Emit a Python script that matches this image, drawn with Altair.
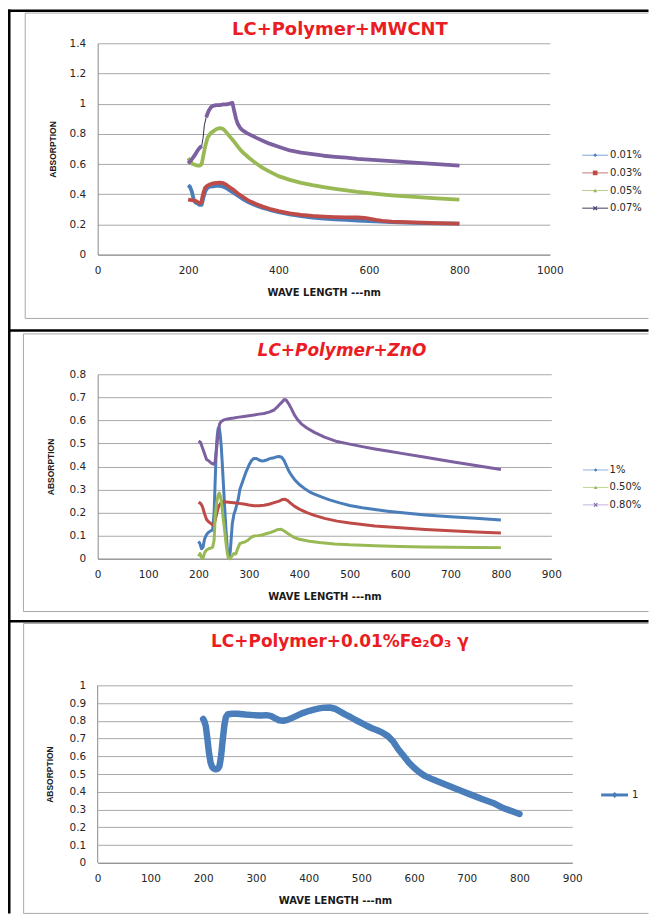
import altair as alt
import pandas as pd

# ---------------- LC + Polymer + MWCNT ----------------
mw_names = ["0.01%", "0.03%", "0.05%", "0.07%"]
mw_colors = ["#4a7ebb", "#be4b48", "#98b954", "#7d60a0"]

mw_wl_001 = [200, 204, 208, 212, 216, 220, 225, 230, 234, 238, 242, 248, 255, 262, 270, 278, 285, 292, 300, 310,
             320, 335, 350, 365, 380, 400, 425, 450, 475, 500, 525, 550, 575, 600, 625, 650, 700, 750, 800]
mw_ab_001 = [0.46, 0.45, 0.42, 0.37, 0.345, 0.34, 0.33, 0.33, 0.38, 0.42, 0.44, 0.45, 0.452, 0.455, 0.455, 0.45,
             0.44, 0.425, 0.41, 0.39, 0.37, 0.345, 0.325, 0.31, 0.297, 0.282, 0.267, 0.255, 0.245, 0.238, 0.233,
             0.23, 0.226, 0.222, 0.218, 0.215, 0.21, 0.207, 0.205]

mw_wl_003 = [200, 205, 210, 215, 220, 225, 229, 233, 237, 242, 248, 255, 262, 270, 278, 285, 292, 300, 310, 320,
             335, 350, 365, 380, 400, 425, 450, 475, 500, 525, 550, 575, 590, 600, 615, 630, 650, 700, 750, 800]
mw_ab_003 = [0.365, 0.362, 0.36, 0.358, 0.35, 0.34, 0.345, 0.4, 0.44, 0.455, 0.465, 0.472, 0.476, 0.477, 0.473,
             0.462, 0.445, 0.43, 0.405, 0.385, 0.355, 0.336, 0.318, 0.304, 0.288, 0.274, 0.263, 0.256, 0.252,
             0.249, 0.247, 0.246, 0.244, 0.238, 0.23, 0.224, 0.219, 0.213, 0.209, 0.205]

mw_wl_005 = [200, 205, 210, 215, 220, 226, 230, 234, 238, 243, 250, 257, 263, 270, 276, 282, 290, 300, 310, 320,
             335, 350, 365, 380, 400, 425, 450, 475, 500, 525, 550, 575, 600, 650, 700, 750, 800]
mw_ab_005 = [0.64, 0.62, 0.6, 0.595, 0.59, 0.59, 0.6, 0.66, 0.72, 0.775, 0.805, 0.82, 0.832, 0.838, 0.835, 0.82,
             0.79, 0.755, 0.715, 0.68, 0.64, 0.605, 0.575, 0.55, 0.52, 0.495, 0.475, 0.46, 0.447, 0.436, 0.425,
             0.415, 0.407, 0.393, 0.382, 0.372, 0.365]

mw_wl_007 = [200, 205, 210, 215, 220, 225, 230, 233, 236, 240, 245, 250, 255, 262, 270, 278, 285, 292, 298, 302,
             306, 310, 315, 320, 330, 340, 350, 365, 380, 400, 425, 450, 475, 500, 525, 550, 575, 600, 650, 700,
             750, 800]
mw_ab_007 = [0.605, 0.62, 0.64, 0.66, 0.685, 0.705, 0.72, 0.77, 0.86, 0.91, 0.95, 0.975, 0.985, 0.99, 0.99, 0.995,
             0.995, 1.0, 1.005, 0.95, 0.9, 0.865, 0.84, 0.825, 0.805, 0.79, 0.775, 0.755, 0.735, 0.715, 0.69,
             0.675, 0.665, 0.655, 0.648, 0.642, 0.635, 0.63, 0.62, 0.61, 0.6, 0.59]

# ---------------- LC + Polymer + ZnO ----------------
zn_names = ["1%", "0.30%", "0.50%", "0.80%"]
zn_colors = ["#4a7ebb", "#be4b48", "#98b954", "#8668ad"]

zn_wl_1 = [200, 203, 206, 209, 212, 216, 220, 224, 228, 231, 233, 235, 237, 239, 241, 243, 245, 247, 249, 251,
           253, 255, 257, 259, 261, 263, 265, 267, 270, 273, 276, 279, 282, 286, 290, 295, 300, 305, 310, 315,
           320, 325, 330, 335, 340, 345, 350, 355, 360, 365, 370, 375, 380, 385, 390, 395, 400, 410, 420, 430,
           445, 460, 480, 500, 525, 550, 575, 600, 650, 700, 750, 800]
zn_ab_1 = [0.075, 0.065, 0.043, 0.05, 0.085, 0.105, 0.115, 0.12, 0.125, 0.2, 0.33, 0.46, 0.53, 0.565, 0.57, 0.54,
           0.49, 0.42, 0.34, 0.26, 0.18, 0.11, 0.05, 0.02, 0.01, 0.03, 0.09, 0.15, 0.19, 0.21, 0.235, 0.26, 0.3,
           0.325, 0.35, 0.38, 0.405, 0.425, 0.435, 0.435, 0.428, 0.424, 0.425, 0.428, 0.433, 0.436, 0.438, 0.442,
           0.443, 0.44, 0.425, 0.4, 0.377, 0.36, 0.345, 0.333, 0.322, 0.305, 0.29, 0.28, 0.267, 0.255, 0.242,
           0.231, 0.221, 0.213, 0.206, 0.2, 0.19, 0.182, 0.175, 0.168]

zn_wl_03 = [200, 204, 208, 212, 216, 220, 225, 230, 233, 236, 240, 245, 250, 260, 270, 280, 290, 300, 310, 320,
            330, 340, 350, 360, 367, 372, 377, 382, 390, 400, 415, 430, 450, 475, 500, 525, 550, 600, 650, 700,
            750, 800]
zn_ab_03 = [0.245, 0.24, 0.225, 0.195, 0.17, 0.16, 0.152, 0.145, 0.165, 0.195, 0.228, 0.243, 0.247, 0.245, 0.243,
            0.24, 0.237, 0.233, 0.23, 0.23, 0.232, 0.236, 0.243, 0.25, 0.257, 0.258, 0.252, 0.242, 0.228, 0.215,
            0.2, 0.188, 0.175, 0.163, 0.155, 0.148, 0.142, 0.134, 0.127, 0.121, 0.116, 0.111]

zn_wl_05 = [200, 203, 206, 209, 212, 216, 220, 224, 228, 231, 233, 236, 239, 241, 243, 245, 247, 249, 251, 253,
            255, 257, 259, 262, 266, 270, 274, 278, 282, 287, 292, 298, 304, 310, 318, 326, 334, 342, 350, 358,
            364, 370, 378, 388, 400, 420, 440, 470, 500, 550, 600, 650, 700, 750, 800]
zn_ab_05 = [0.01, 0.022, 0.005, 0.002, 0.025, 0.038, 0.043, 0.045, 0.05, 0.08, 0.18, 0.245, 0.275, 0.285, 0.275,
            0.255, 0.215, 0.175, 0.14, 0.1, 0.06, 0.025, 0.005, 0.0, 0.01, 0.022, 0.02, 0.045, 0.065, 0.07, 0.072,
            0.08, 0.092, 0.098, 0.1, 0.103, 0.108, 0.113, 0.12, 0.127, 0.128, 0.12, 0.108, 0.094, 0.084, 0.076,
            0.07, 0.064, 0.06, 0.056, 0.053, 0.051, 0.05, 0.049, 0.048]

zn_wl_08 = [200, 204, 208, 212, 216, 220, 225, 230, 233, 236, 239, 242, 245, 250, 260, 270, 280, 290, 300, 310,
            320, 330, 340, 350, 358, 365, 370, 374, 378, 384, 390, 396, 404, 415, 430, 450, 475, 500, 525, 550,
            575, 600, 650, 700, 750, 800]
zn_ab_08 = [0.51, 0.505, 0.48, 0.455, 0.43, 0.425, 0.415, 0.41, 0.42, 0.48, 0.55, 0.585, 0.595, 0.602, 0.607,
            0.61, 0.614, 0.617, 0.62, 0.623, 0.627, 0.63, 0.636, 0.645, 0.662, 0.678, 0.69, 0.688, 0.675, 0.652,
            0.625, 0.605, 0.585, 0.567, 0.548, 0.527, 0.508, 0.497, 0.486, 0.476, 0.467, 0.458, 0.44, 0.422,
            0.404, 0.387]

# ---------------- LC + Polymer + 0.01% Fe2O3 gamma ----------------
fe_wl = [200, 202, 205, 208, 211, 214, 217, 220, 224, 228, 231, 234, 237, 240, 243, 247, 255, 265, 280, 295, 310,
         320, 328, 336, 344, 352, 360, 370, 380, 390, 400, 410, 420, 430, 440, 450, 460, 470, 480, 490, 500, 510,
         520, 530, 540, 550, 560, 570, 580, 590, 600, 610, 620, 635, 650, 670, 690, 710, 730, 750, 770, 790, 800]
fe_ab = [0.81, 0.80, 0.77, 0.70, 0.62, 0.565, 0.54, 0.53, 0.527, 0.53, 0.545, 0.60, 0.69, 0.77, 0.82, 0.837, 0.84,
         0.84, 0.835, 0.832, 0.83, 0.832, 0.828, 0.815, 0.803, 0.80, 0.805, 0.818, 0.832, 0.845, 0.855, 0.863,
         0.87, 0.874, 0.875, 0.868, 0.852, 0.835, 0.82, 0.803, 0.788, 0.772, 0.758, 0.747, 0.733, 0.715, 0.685,
         0.64, 0.603, 0.565, 0.535, 0.51, 0.49, 0.47, 0.452, 0.428, 0.404, 0.381, 0.358, 0.337, 0.307, 0.286,
         0.275]
fe_name = "1"
fe_color = "#4a7ebb"

# ---------------- styling ----------------
FONT = "DejaVu Sans"
GRID = "#a9a9a9"
AXIS_LINE = "#8a8a8a"
LABEL = "#262626"
RED_TITLE = "#ec1c24"
BORDER_GRAY = "#a8a8a8"
RIGHT = 552.5  # right end of the frame lines, in panel-1 pixels

one = pd.DataFrame({"k": [0]})


def hrule(x1, x2, y, color, width):
    return alt.Chart(one).mark_rule(color=color, strokeWidth=width, strokeCap="butt").encode(
        x=alt.value(x1), x2=alt.value(x2), y=alt.value(y))


def vrule(x, y1, y2, color, width):
    return alt.Chart(one).mark_rule(color=color, strokeWidth=width, strokeCap="butt").encode(
        x=alt.value(x), y=alt.value(y1), y2=alt.value(y2))


def text(txt, x, y, size, align="left", baseline="middle", weight="normal", style="normal",
         color=LABEL, font=FONT):
    return alt.Chart(one).mark_text(text=txt, align=align, baseline=baseline, fontSize=size,
                                    fontWeight=weight, fontStyle=style, color=color, font=font).encode(
        x=alt.value(x), y=alt.value(y))


def legend_entry(name, line_color, marker_color, shape, msize, filled, x1, x2, tx, y, lw=1.0):
    pt = alt.Chart(one).mark_point(shape=shape, size=msize, filled=filled, opacity=1,
                                   color=marker_color, strokeWidth=1.2).encode(
        x=alt.value((x1 + x2) / 2), y=alt.value(y))
    return [hrule(x1, x2, y, line_color, lw), pt, text(name, tx, y, 10)]


def x_axis(ticks):
    return alt.Axis(values=ticks, format="d", title="WAVE LENGTH ---nm", grid=False, ticks=False,
                    domainColor=AXIS_LINE, domainWidth=1, labelFont=FONT, labelFontSize=10.5,
                    labelColor=LABEL, labelPadding=11, labelFlush=False, labelOverlap=False,
                    titleFont=FONT, titleFontSize=10, titleFontWeight="bold", titleColor="#1a1a1a",
                    titleY=38, titleBaseline="middle")


def y_axis(ticks, title_x, title_y=None, domain=True):
    extra = {} if title_y is None else {"titleY": title_y}
    return alt.Axis(values=ticks, format=".1~f", title="ABSORPTION", grid=True, gridColor=GRID,
                    gridWidth=1, ticks=False, domain=domain, domainColor=AXIS_LINE, domainWidth=1,
                    labelFont=FONT, labelFontSize=10.5, labelColor=LABEL, labelPadding=12,
                    labelFlush=False, labelOverlap=False, titleFont="Liberation Sans", titleFontSize=8.5,
                    titleFontWeight="bold", titleColor="#1a1a1a", titleX=title_x,
                    titleBaseline="middle", **extra)


def frame(names, wls, abs_):
    parts = [pd.DataFrame({"wl": w, "a": a, "series": n}) for n, w, a in zip(names, wls, abs_)]
    return pd.concat(parts, ignore_index=True)


# ---------------- panel 1 : MWCNT ----------------
mw = frame(mw_names, [mw_wl_001, mw_wl_003, mw_wl_005, mw_wl_007],
           [mw_ab_001, mw_ab_003, mw_ab_005, mw_ab_007])
# the 0.07% trace is thin where its markers thin out across the steep rise
mw["seg"] = "a"
steep = (mw["series"] == "0.07%") & (mw["wl"] > 230) & (mw["wl"] < 240)
mw.loc[(mw["series"] == "0.07%") & (mw["wl"] >= 240), "seg"] = "b"

W1, H1 = 453.5, 212
x1 = alt.X("wl:Q", scale=alt.Scale(domain=[0, 1000], nice=False), axis=x_axis(list(range(0, 1001, 200))))
y1 = alt.Y("a:Q", scale=alt.Scale(domain=[0, 1.4], nice=False),
           axis=y_axis([round(0.2 * i, 1) for i in range(8)], -45))

thin07 = alt.Chart(mw[mw["series"] == "0.07%"]).mark_line(color="#2e2e4a", strokeWidth=1).encode(x=x1, y=y1)
thick1 = alt.Chart(mw[~steep]).mark_line(strokeWidth=3.8, strokeJoin="round").encode(
    x=x1, y=y1,
    color=alt.Color("series:N", scale=alt.Scale(domain=mw_names, range=mw_colors), legend=None),
    detail="seg:N")

deco = [
    # page frame (black) and chart-area borders (grey)
    vrule(-88.7, -34, 873, "black", 2.5),
    hrule(-90, RIGHT, -32.7, "black", 2.5),
    hrule(-88.7, RIGHT, 288, "black", 2.5),
    hrule(-88.7, RIGHT, 579.7, "black", 2.5),
    vrule(-72.7, -30.3, 276, BORDER_GRAY, 1), hrule(-72.7, RIGHT, -30.3, BORDER_GRAY, 1),
    hrule(-72.7, RIGHT, 276, BORDER_GRAY, 1),
    vrule(-74.5, 291.5, 570, BORDER_GRAY, 1), hrule(-74.5, RIGHT, 291.5, BORDER_GRAY, 1),
    hrule(-74.5, RIGHT, 570, BORDER_GRAY, 1),
    vrule(-74.3, 582, 873, BORDER_GRAY, 1), hrule(-74.3, RIGHT, 582, BORDER_GRAY, 1),
    hrule(-74.3, RIGHT, 872.8, BORDER_GRAY, 1),
]

leg1 = []
mw_shapes = [("diamond", 14, True, mw_colors[0]), ("square", 22, True, mw_colors[1]),
             ("triangle-up", 16, True, mw_colors[2]), ("M-1,-1L1,1M-1,1L1,-1", 14, False, "#4b3f78")]
mw_line_cols = ["#7ea6d6", "#c77a78", "#b9d08e", "#3d3d5c"]
for i, name in enumerate(mw_names):
    shp, sz, fil, mc = mw_shapes[i]
    leg1 += legend_entry(name, mw_line_cols[i], mc, shp, sz, fil, 486, 512, 514, 112.3 + 17.7 * i)

title1 = text("LC+Polymer+MWCNT", 243, -8.5, 18, align="center", baseline="alphabetic",
              weight="bold", color=RED_TITLE)

panel1 = alt.layer(*deco, thin07, thick1, *leg1, title1).properties(width=W1, height=H1)

# ---------------- panel 2 : ZnO ----------------
zn = frame(zn_names, [zn_wl_1, zn_wl_03, zn_wl_05, zn_wl_08], [zn_ab_1, zn_ab_03, zn_ab_05, zn_ab_08])
W2, H2 = 455, 185
x2 = alt.X("wl:Q", scale=alt.Scale(domain=[0, 900], nice=False), axis=x_axis(list(range(0, 901, 100))))
y2 = alt.Y("a:Q", scale=alt.Scale(domain=[0, 0.8], nice=False),
           axis=y_axis([round(0.1 * i, 1) for i in range(9)], -47))
lines2 = alt.Chart(zn).mark_line(strokeWidth=3, strokeJoin="round").encode(
    x=x2, y=y2,
    color=alt.Color("series:N", scale=alt.Scale(domain=zn_names, range=zn_colors), legend=None))

leg2 = []
zn_legend = [("1%", "#8fb2dc", zn_colors[0], "diamond", 12, True),
             ("0.50%", "#bcd393", zn_colors[2], "triangle-up", 14, True),
             ("0.80%", "#c2b2d8", zn_colors[3], "M-1,-1L1,1M-1,1L1,-1", 12, False)]
for i, (name, lc, mc, shp, sz, fil) in enumerate(zn_legend):
    leg2 += legend_entry(name, lc, mc, shp, sz, fil, 486.7, 512.3, 513.5, 96 + 17.5 * i)

title2 = text("LC+Polymer+ZnO", 245, -18.5, 17, align="center", baseline="alphabetic",
              weight="bold", style="italic", color=RED_TITLE)

panel2 = alt.layer(lines2, *leg2, title2).properties(width=W2, height=H2)

# ---------------- panel 3 : Fe2O3 ----------------
fe = pd.DataFrame({"wl": fe_wl, "a": fe_ab, "series": fe_name})
W3, H3 = 476, 185
y_top3 = 185 / 178
x3 = alt.X("wl:Q", scale=alt.Scale(domain=[0, 900], nice=False), axis=x_axis(list(range(0, 901, 100))))
y3_axis = y_axis([round(0.1 * i, 1) for i in range(11)], -48, title_y=96, domain=False)
y3 = alt.Y("a:Q", scale=alt.Scale(domain=[0, y_top3], nice=False), axis=y3_axis)
# vertical axis line only up to the top gridline (1.0)
axis3 = alt.Chart(one).mark_rule(color=AXIS_LINE, strokeWidth=1).encode(
    x=alt.value(0), y=alt.YDatum(0, axis=y3_axis), y2=alt.Y2Datum(1))
line3 = alt.Chart(fe).mark_line(color=fe_color, strokeWidth=6.5, strokeJoin="round", strokeCap="round").encode(
    x=x3, y=y3)
leg3 = legend_entry(fe_name, fe_color, fe_color, "diamond", 36, True, 505, 532, 536, 117, lw=3)
title3 = text("LC+Polymer+0.01%Fe\u2082O\u2083 \u03b3", 243, -31, 17, align="center",
              baseline="alphabetic", weight="bold", color=RED_TITLE)

panel3 = alt.layer(line3, axis3, *leg3, title3).properties(width=W3, height=H3)

chart = alt.vconcat(panel1, panel2, panel3, spacing=120, bounds="flush").properties(
    padding={"left": 6, "top": 6, "right": 0, "bottom": 0}, background="white"
).configure_view(stroke=None)

chart.save("out.html", embed_options={"renderer": "svg", "actions": False})
